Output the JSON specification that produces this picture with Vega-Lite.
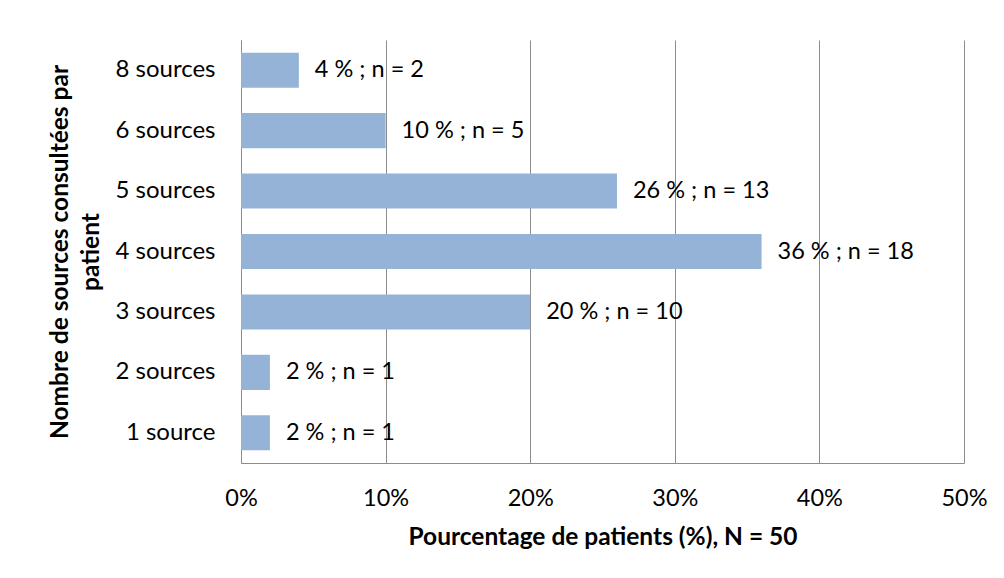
{
  "$schema": "https://vega.github.io/schema/vega-lite/v6.json",
  "width": 723,
  "height": 423,
  "autosize": {"type": "none"},
  "padding": {"left": 241, "top": 40, "right": 40, "bottom": 115},
  "background": "white",
  "config": {
    "view": {"stroke": null},
    "font": "Lato",
    "axis": {
      "domainColor": "#8c8c8c",
      "gridColor": "#8c8c8c",
      "ticks": false,
      "labelFont": "Lato",
      "titleFont": "Lato",
      "labelColor": "#000000",
      "titleColor": "#000000"
    }
  },
  "data": {
    "values": [
      {"cat": "8 sources", "pct": 4, "label": "4 % ; n = 2"},
      {"cat": "6 sources", "pct": 10, "label": "10 % ; n = 5"},
      {"cat": "5 sources", "pct": 26, "label": "26 % ; n = 13"},
      {"cat": "4 sources", "pct": 36, "label": "36 % ; n = 18"},
      {"cat": "3 sources", "pct": 20, "label": "20 % ; n = 10"},
      {"cat": "2 sources", "pct": 2, "label": "2 % ; n = 1"},
      {"cat": "1 source", "pct": 2, "label": "2 % ; n = 1"}
    ]
  },
  "encoding": {
    "y": {
      "field": "cat",
      "type": "nominal",
      "sort": ["8 sources", "6 sources", "5 sources", "4 sources", "3 sources", "2 sources", "1 source"],
      "scale": {"paddingInner": 0.42, "paddingOuter": 0.21},
      "axis": {
        "title": ["Nombre de sources consultées par", "patient"],
        "titleFontSize": 24.5,
        "titleFontWeight": "bold",
        "titleLineHeight": 31,
        "titlePadding": 12,
        "labelFontSize": 24,
        "labelPadding": 26,
        "grid": false
      }
    },
    "x": {
      "field": "pct",
      "type": "quantitative",
      "scale": {"domain": [0, 50], "nice": false},
      "axis": {
        "values": [0, 10, 20, 30, 40, 50],
        "labelExpr": "datum.value + '%'",
        "labelFlush": false,
        "title": "Pourcentage de patients (%), N = 50",
        "titleFontSize": 24.5,
        "titleFontWeight": "bold",
        "titlePadding": 16,
        "labelFontSize": 23.5,
        "labelPadding": 23,
        "grid": true
      }
    }
  },
  "layer": [
    {"mark": {"type": "bar", "color": "#95B3D7"}},
    {
      "mark": {"type": "text", "align": "left", "baseline": "middle", "dx": 16, "fontSize": 23.5, "color": "#000000"},
      "encoding": {"text": {"field": "label"}}
    }
  ]
}
